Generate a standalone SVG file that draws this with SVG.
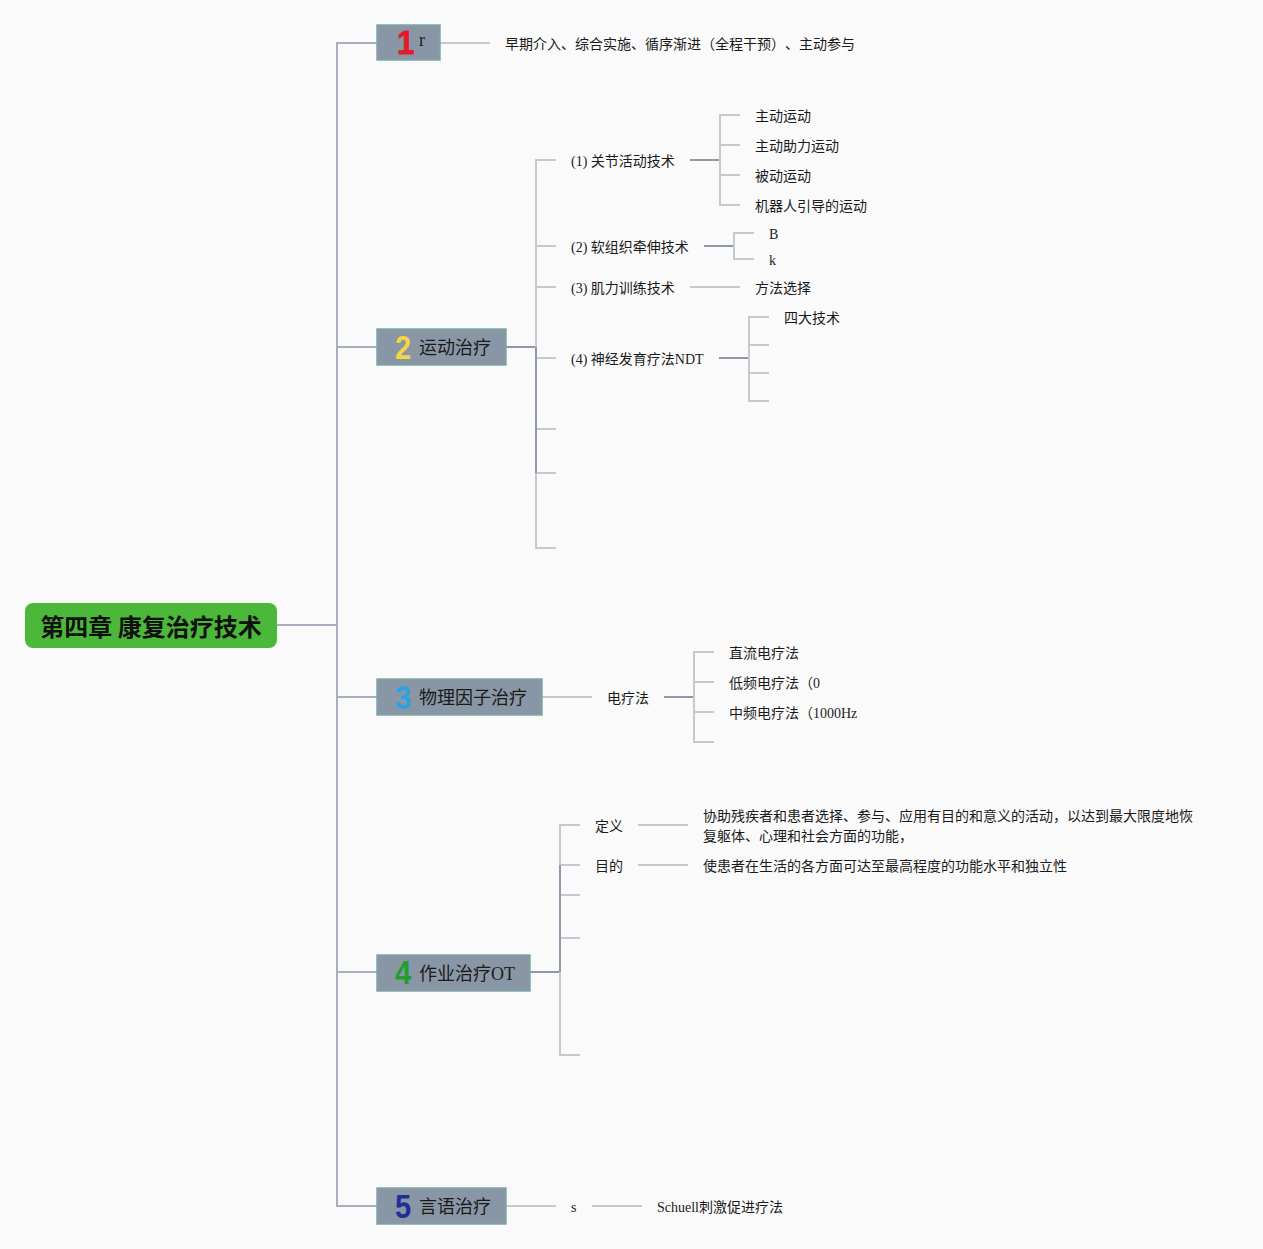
<svg xmlns="http://www.w3.org/2000/svg" width="1263" height="1249" viewBox="0 0 1263 1249">
<style>
.t{font-family:"Liberation Serif","Noto Sans CJK SC",serif;font-size:14px;fill:#1a1a1a;text-spacing-trim:space-all}
.nt{font-family:"Liberation Serif","Noto Sans CJK SC",sans-serif;font-size:18px;fill:#1a1a1a}
.num{font-family:"Liberation Sans","DejaVu Sans",sans-serif;font-size:33px;font-weight:bold}
.box{fill:#8996a5;stroke:#7ea6a4;stroke-width:1.5}
.c1{fill:none;stroke:#a9afbc;stroke-width:2}
.c2{fill:none;stroke:#c6c9cf;stroke-width:2}
.c3{fill:none;stroke:#8e98ab;stroke-width:2}
</style>
<rect width="1263" height="1249" fill="#fafafa"/>
<g id="connectors">
<path class="c1" d="M277,625 H337"/>
<path class="c1" d="M377,43 H337 V1206 H377"/>
<path class="c1" d="M337,347 H377 M337,697 H377 M337,972 H377"/>
<path class="c2" d="M440,43 H490"/>
<path class="c3" d="M506,347 H536"/>
<path class="c2" d="M556,160 H536 V548 H556 M536,246 H556 M536,287 H556 M536,358 H556 M536,429 H556 M536,473 H556"/>
<path class="c3" d="M536,347 V473"/>
<path class="c3" d="M690,160 H720"/>
<path class="c2" d="M740,115 H720 V205 H740 M720,145 H740 M720,175 H740"/>
<path class="c3" d="M704,246 H734"/>
<path class="c2" d="M754,233 H734 V259 H754"/>
<path class="c2" d="M690,287 H740"/>
<path class="c3" d="M719,358 H749"/>
<path class="c2" d="M769,317 H749 V401 H769 M749,345 H769 M749,373 H769"/>
<path class="c2" d="M542,697 H592"/>
<path class="c3" d="M664,697 H694"/>
<path class="c2" d="M714,652 H694 V742 H714 M694,682 H714 M694,712 H714"/>
<path class="c3" d="M530,972 H560"/>
<path class="c2" d="M580,825 H560 V1055 H580 M560,865 H580 M560,895 H580 M560,938 H580"/>
<path class="c3" d="M560,865 V972"/>
<path class="c2" d="M638,825 H688 M638,865 H688"/>
<path class="c2" d="M506,1206 H556 M592,1206 H642"/>
</g>
<g id="root">
<rect x="25" y="603" width="252" height="45" rx="8" fill="#4cb83a"/>
<text x="151" y="636" text-anchor="middle" font-family="'Noto Sans CJK SC',sans-serif" font-size="24" font-weight="bold" fill="#111">第四章 康复治疗技术</text>
</g>
<g id="node1">
<rect class="box" x="377" y="25" width="63" height="35"/>
<text class="num" transform="translate(397,54) scale(0.95,1)" fill="#e01b2a" stroke="#e01b2a" stroke-width="0.8">1</text>
<text class="nt" x="419" y="46" font-size="16">r</text>
</g>
<g id="node1-text"><text class="t" x="505" y="49">早期介入、综合实施、循序渐进（全程干预）、主动参与</text></g>
<g id="node2">
<rect class="box" x="377" y="329" width="129" height="36"/>
<text class="num" transform="translate(395,359) scale(0.88,1)" fill="#f3d545">2</text>
<text class="nt" x="419" y="354">运动治疗</text>
</g>
<g id="n2-1"><text class="t" x="571" y="166">(1) 关节活动技术</text></g>
<g id="n2-1-a"><text class="t" x="755" y="121">主动运动</text></g>
<g id="n2-1-b"><text class="t" x="755" y="151">主动助力运动</text></g>
<g id="n2-1-c"><text class="t" x="755" y="181">被动运动</text></g>
<g id="n2-1-d"><text class="t" x="755" y="211">机器人引导的运动</text></g>
<g id="n2-2"><text class="t" x="571" y="252">(2) 软组织牵伸技术</text></g>
<g id="n2-2-a"><text class="t" x="769" y="239">B</text></g>
<g id="n2-2-b"><text class="t" x="769" y="265">k</text></g>
<g id="n2-3"><text class="t" x="571" y="293">(3) 肌力训练技术</text></g>
<g id="n2-3-a"><text class="t" x="755" y="293">方法选择</text></g>
<g id="n2-4"><text class="t" x="571" y="364">(4) 神经发育疗法NDT</text></g>
<g id="n2-4-a"><text class="t" x="784" y="323">四大技术</text></g>
<g id="node3">
<rect class="box" x="377" y="679" width="165" height="36"/>
<text class="num" transform="translate(395,709) scale(0.88,1)" fill="#2aa3e3">3</text>
<text class="nt" x="419" y="704">物理因子治疗</text>
</g>
<g id="n3-1"><text class="t" x="607" y="703">电疗法</text></g>
<g id="n3-1-a"><text class="t" x="729" y="658">直流电疗法</text></g>
<g id="n3-1-b"><text class="t" x="729" y="688">低频电疗法（0</text></g>
<g id="n3-1-c"><text class="t" x="729" y="718">中频电疗法（1000Hz</text></g>
<g id="node4">
<rect class="box" x="377" y="955" width="153" height="36"/>
<text class="num" transform="translate(395,984) scale(0.88,1)" fill="#1f9e2e">4</text>
<text class="nt" x="419" y="980">作业治疗OT</text>
</g>
<g id="n4-1"><text class="t" x="595" y="831">定义</text></g>
<g id="n4-1-a"><text class="t" x="703" y="821">协助残疾者和患者选择、参与、应用有目的和意义的活动，以达到最大限度地恢</text><text class="t" x="703" y="841">复躯体、心理和社会方面的功能，</text></g>
<g id="n4-2"><text class="t" x="595" y="871">目的</text></g>
<g id="n4-2-a"><text class="t" x="703" y="871">使患者在生活的各方面可达至最高程度的功能水平和独立性</text></g>
<g id="node5">
<rect class="box" x="377" y="1188" width="129" height="36"/>
<text class="num" transform="translate(395,1218) scale(0.88,1)" fill="#1e2f9a">5</text>
<text class="nt" x="419" y="1213">言语治疗</text>
</g>
<g id="n5-1"><text class="t" x="571" y="1212">s</text></g>
<g id="n5-1-a"><text class="t" x="657" y="1212">Schuell刺激促进疗法</text></g>
</svg>
